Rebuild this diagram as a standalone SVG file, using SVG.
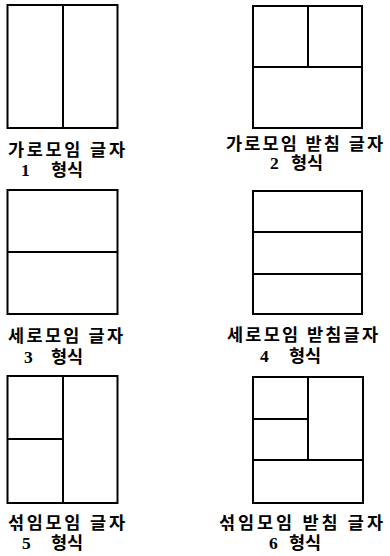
<svg xmlns="http://www.w3.org/2000/svg" width="390" height="556" viewBox="0 0 390 556">
<style>
.b{fill:none;stroke:#000;stroke-width:2}
.l{stroke:#000;stroke-width:2;fill:none}
text{font-family:"Liberation Serif","Noto Sans CJK KR",serif;font-weight:bold;font-size:17.5px;fill:#000}
</style>
<rect width="390" height="556" fill="#fff"/>
<g id="type1">
<rect class="b" x="7.5" y="5" width="110" height="123"/>
<line class="l" x1="63" y1="5" x2="63" y2="128"/>
<text x="8" y="156" textLength="117" lengthAdjust="spacing">가로모임 글자</text>
<text x="21" y="176">1<tspan x="51">형식</tspan></text>
</g>
<g id="type2">
<rect class="b" x="253" y="6" width="109" height="122"/>
<line class="l" x1="308" y1="6" x2="308" y2="67"/>
<line class="l" x1="253" y1="67" x2="362" y2="67"/>
<text x="226" y="150" textLength="157" lengthAdjust="spacing">가로모임 받침 글자</text>
<text x="270" y="169">2<tspan x="291">형식</tspan></text>
</g>
<g id="type3">
<rect class="b" x="7.5" y="190" width="110" height="124"/>
<line class="l" x1="7.5" y1="252" x2="117.5" y2="252"/>
<text x="8" y="342" textLength="115" lengthAdjust="spacing">세로모임 글자</text>
<text x="24" y="363">3<tspan x="51">형식</tspan></text>
</g>
<g id="type4">
<rect class="b" x="253" y="191" width="109" height="123"/>
<line class="l" x1="253" y1="232" x2="362" y2="232"/>
<line class="l" x1="253" y1="274" x2="362" y2="274"/>
<text x="227" y="341" textLength="151" lengthAdjust="spacing">세로모임 받침글자</text>
<text x="260" y="362">4<tspan x="289">형식</tspan></text>
</g>
<g id="type5">
<rect class="b" x="7.5" y="376" width="110" height="127"/>
<line class="l" x1="63" y1="376" x2="63" y2="503"/>
<line class="l" x1="7.5" y1="439" x2="63" y2="439"/>
<text x="8" y="529" textLength="117" lengthAdjust="spacing">섞임모임 글자</text>
<text x="22" y="549">5<tspan x="51">형식</tspan></text>
</g>
<g id="type6">
<rect class="b" x="253" y="377" width="110" height="126"/>
<line class="l" x1="308" y1="377" x2="308" y2="460"/>
<line class="l" x1="253" y1="460" x2="363" y2="460"/>
<line class="l" x1="253" y1="419" x2="308" y2="419"/>
<text x="219" y="529" textLength="164" lengthAdjust="spacing">섞임모임 받침 글자</text>
<text x="269" y="549">6<tspan x="289">형식</tspan></text>
</g>
<g id="connectors"/>
</svg>
